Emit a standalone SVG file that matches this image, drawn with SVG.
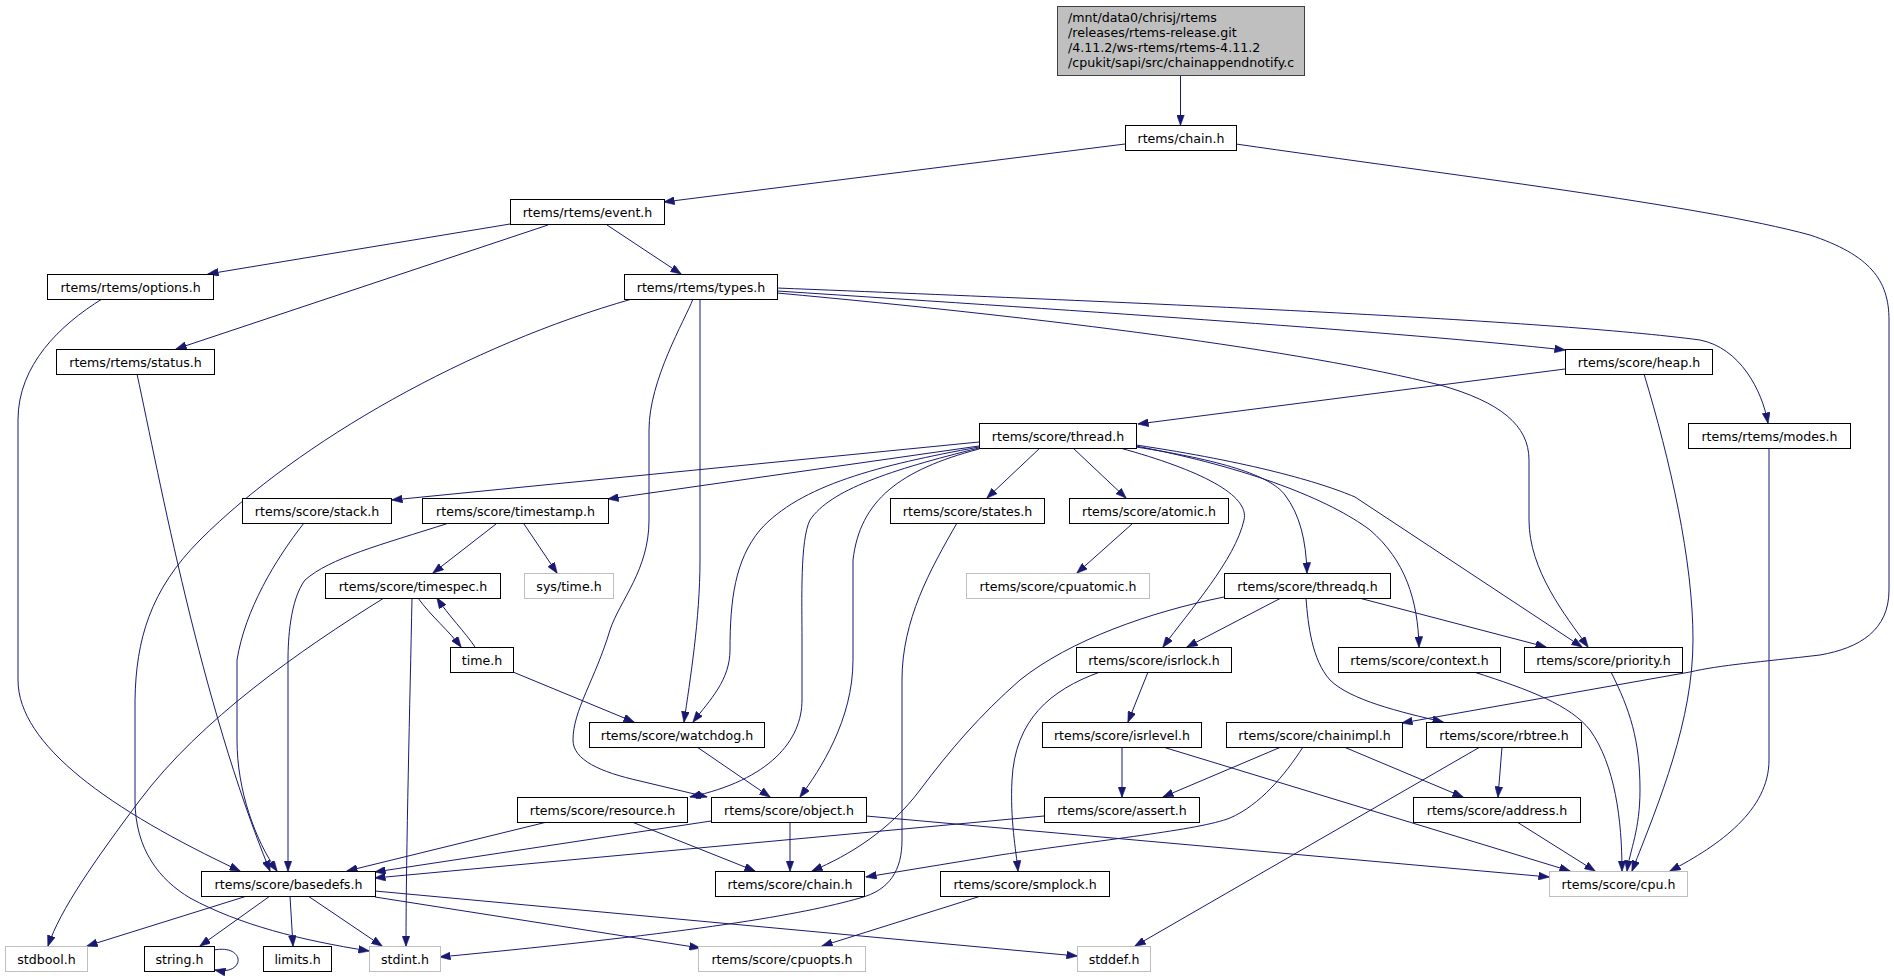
<svg xmlns="http://www.w3.org/2000/svg" width="1894" height="978" viewBox="0 0 1894 978">
<style>
text{font-family:"DejaVu Sans",Verdana,sans-serif;font-size:12.6px;fill:#000}
.n text{text-anchor:middle}
.n rect{fill:#fff;stroke:#000;stroke-width:1}
.m rect{fill:#fff;stroke:#bfbfbf;stroke-width:1}
.m text{text-anchor:middle}
#root rect{fill:#bfbfbf;stroke:#404040;stroke-width:1}
#edges path{fill:none;stroke:#191970;stroke-width:1;marker-end:url(#ah)}
</style>
<defs>
<marker id="ah" markerUnits="userSpaceOnUse" markerWidth="11" markerHeight="8" viewBox="0 0 11 8" refX="10.5" refY="4" orient="auto">
<path d="M0,0 L11,4 L0,8 z" fill="#191970" stroke="#191970" stroke-width="0.5"/>
</marker>
</defs>
<rect x="0" y="0" width="1894" height="978" fill="#fff"/>
<g id="edges">
<path d="M1180.5,75 L1180.5,125"/>
<path d="M1125,144 L664,202"/>
<path d="M1236,144 C1450,175 1700,205 1810,235 C1870,255 1889,280 1889,320 L1889,590 C1889,630 1860,648 1820,655 C1760,662 1720,665 1690,672 L1402,723"/>
<path d="M510,224 L208,274"/>
<path d="M548,225 L176,349"/>
<path d="M607,225 L681,274"/>
<path d="M102,299 C60,325 18,365 18,420 L18,680 C18,745 110,810 240,871"/>
<path d="M137,374 C160,480 200,700 270,871"/>
<path d="M632,299 C470,345 300,440 200,540 C150,590 136,640 135,700 L135,800 C135,850 160,880 190,898 C240,925 300,940 369,951"/>
<path d="M693,299 C685,320 649,380 649,430 L649,520 C649,570 620,600 610,630 C595,680 573,710 573,740 C573,760 600,772 640,781 L707,797"/>
<path d="M700,299 L700,560 C700,620 690,680 684,722"/>
<path d="M777,291 C1100,312 1400,332 1565,350"/>
<path d="M777,288 C1150,303 1550,320 1700,340 C1740,348 1762,390 1768,423"/>
<path d="M777,293 C1050,318 1300,350 1440,385 C1500,402 1529,425 1529,460 L1529,520 C1529,570 1565,615 1588,647"/>
<path d="M1565,369 L1138,424"/>
<path d="M1644,374 C1670,460 1693,560 1693,640 C1693,720 1660,800 1632,871"/>
<path d="M1769,449 L1769,760 C1769,810 1720,845 1670,871"/>
<path d="M979,442 L392,500"/>
<path d="M979,446 L608,499"/>
<path d="M979,447 C880,465 800,485 760,530 C735,560 730,600 730,650 C730,680 710,700 693,722"/>
<path d="M979,448 C890,470 830,490 810,520 C800,540 802,600 802,640 L802,700 C802,740 770,780 690,797"/>
<path d="M979,449 C900,470 860,500 853,560 L853,660 C853,720 820,770 800,797"/>
<path d="M1040,448 L987,498"/>
<path d="M1073,448 L1126,498"/>
<path d="M1120,448 C1200,470 1250,495 1244,520 C1235,560 1190,610 1163,647"/>
<path d="M1136,447 C1220,460 1270,475 1285,495 C1300,515 1306,540 1307,573"/>
<path d="M1136,446 C1250,468 1330,500 1370,530 C1405,560 1418,600 1419,647"/>
<path d="M1136,445 C1250,462 1320,482 1355,497 L1582,647"/>
<path d="M304,523 C275,560 245,610 237,660 L237,740 C237,790 255,840 277,871"/>
<path d="M449,523 C380,545 330,558 305,580 C290,600 288,640 288,660 L288,871"/>
<path d="M496,524 L433,573"/>
<path d="M524,524 L557,573"/>
<path d="M384,598 C300,650 200,720 140,800 C95,860 60,910 48,946"/>
<path d="M412,598 C410,700 406,850 406,946"/>
<path d="M418,598 C430,615 450,632 461,647"/>
<path d="M475,647 C465,632 448,615 437,598"/>
<path d="M513,672 L634,722"/>
<path d="M957,523 C930,570 902,620 902,680 L902,840 C902,870 890,890 860,898 C800,915 700,932 440,957"/>
<path d="M1132,524 L1077,573"/>
<path d="M1281,598 L1187,647"/>
<path d="M1359,598 L1546,647"/>
<path d="M1306,598 C1308,625 1312,660 1330,680 C1350,700 1400,712 1443,722"/>
<path d="M1224,597 C1150,612 1070,640 1020,680 C980,715 950,750 920,790 C890,830 850,855 812,871"/>
<path d="M1148,672 L1128,722"/>
<path d="M1100,672 C1050,690 1015,720 1012,780 C1010,820 1016,850 1018,871"/>
<path d="M1122,747 L1122,797"/>
<path d="M1163,747 L1570,871"/>
<path d="M1281,747 L1163,797"/>
<path d="M1344,747 L1463,797"/>
<path d="M1303,747 C1285,775 1260,805 1230,818 C1200,830 1100,840 1000,855 L866,877"/>
<path d="M1502,747 L1498,797"/>
<path d="M1480,747 L1135,946"/>
<path d="M1517,822 L1595,871"/>
<path d="M1474,672 C1530,690 1570,705 1590,730 C1615,765 1622,820 1622,871"/>
<path d="M1611,672 C1630,710 1640,740 1640,790 C1640,830 1630,850 1627,871"/>
<path d="M547,822 L347,871"/>
<path d="M632,822 L755,871"/>
<path d="M711,821 L375,872"/>
<path d="M790,822 L790,871"/>
<path d="M866,816 L1549,877"/>
<path d="M1044,816 L375,878"/>
<path d="M697,747 L770,797"/>
<path d="M247,896 L87,946"/>
<path d="M270,896 L200,946"/>
<path d="M290,896 L293,946"/>
<path d="M308,896 L382,946"/>
<path d="M375,897 L700,948"/>
<path d="M375,891 L1077,956"/>
<path d="M214,950 C246,944 246,976 215,970"/>
<path d="M981,896 L822,946"/>
</g>
<g id="root"><rect x="1057.5" y="6.5" width="247" height="69"/>
<text x="1068" y="21.5">/mnt/data0/chrisj/rtems</text>
<text x="1068" y="36.5">/releases/rtems-release.git</text>
<text x="1068" y="51.5">/4.11.2/ws-rtems/rtems-4.11.2</text>
<text x="1068" y="66.5">/cpukit/sapi/src/chainappendnotify.c</text></g>
<g id="chain" class="n"><rect x="1125.5" y="125.5" width="111" height="25"/><text x="1181" y="142.5">rtems/chain.h</text></g>
<g id="event" class="n"><rect x="510.5" y="199.5" width="154" height="25"/><text x="587.5" y="216.5">rtems/rtems/event.h</text></g>
<g id="options" class="n"><rect x="47.5" y="274.5" width="166" height="25"/><text x="130.5" y="291.5">rtems/rtems/options.h</text></g>
<g id="types" class="n"><rect x="624.5" y="274.5" width="153" height="25"/><text x="701" y="291.5">rtems/rtems/types.h</text></g>
<g id="status" class="n"><rect x="56.5" y="349.5" width="158" height="25"/><text x="135.5" y="366.5">rtems/rtems/status.h</text></g>
<g id="heap" class="n"><rect x="1565.5" y="349.5" width="147" height="25"/><text x="1639" y="366.5">rtems/score/heap.h</text></g>
<g id="modes" class="n"><rect x="1688.5" y="423.5" width="162" height="25"/><text x="1769.5" y="440.5">rtems/rtems/modes.h</text></g>
<g id="thread" class="n"><rect x="979.5" y="423.5" width="157" height="25"/><text x="1058" y="440.5">rtems/score/thread.h</text></g>
<g id="stack" class="n"><rect x="242.5" y="498.5" width="149" height="25"/><text x="317" y="515.5">rtems/score/stack.h</text></g>
<g id="timestamp" class="n"><rect x="422.5" y="498.5" width="186" height="25"/><text x="515.5" y="515.5">rtems/score/timestamp.h</text></g>
<g id="states" class="n"><rect x="890.5" y="498.5" width="154" height="25"/><text x="967.5" y="515.5">rtems/score/states.h</text></g>
<g id="atomic" class="n"><rect x="1069.5" y="498.5" width="159" height="25"/><text x="1149" y="515.5">rtems/score/atomic.h</text></g>
<g id="cpuatomic" class="m"><rect x="966.5" y="573.5" width="183" height="25"/><text x="1058" y="590.5">rtems/score/cpuatomic.h</text></g>
<g id="timespec" class="n"><rect x="325.5" y="573.5" width="175" height="25"/><text x="413" y="590.5">rtems/score/timespec.h</text></g>
<g id="systime" class="m"><rect x="524.5" y="573.5" width="89" height="25"/><text x="569" y="590.5">sys/time.h</text></g>
<g id="threadq" class="n"><rect x="1224.5" y="573.5" width="166" height="25"/><text x="1307.5" y="590.5">rtems/score/threadq.h</text></g>
<g id="time" class="n"><rect x="450.5" y="647.5" width="63" height="25"/><text x="482" y="664.5">time.h</text></g>
<g id="isrlock" class="n"><rect x="1076.5" y="647.5" width="155" height="25"/><text x="1154" y="664.5">rtems/score/isrlock.h</text></g>
<g id="context" class="n"><rect x="1338.5" y="647.5" width="162" height="25"/><text x="1419.5" y="664.5">rtems/score/context.h</text></g>
<g id="priority" class="n"><rect x="1524.5" y="647.5" width="158" height="25"/><text x="1603.5" y="664.5">rtems/score/priority.h</text></g>
<g id="watchdog" class="n"><rect x="589.5" y="722.5" width="175" height="25"/><text x="677" y="739.5">rtems/score/watchdog.h</text></g>
<g id="isrlevel" class="n"><rect x="1042.5" y="722.5" width="159" height="25"/><text x="1122" y="739.5">rtems/score/isrlevel.h</text></g>
<g id="chainimpl" class="n"><rect x="1226.5" y="722.5" width="176" height="25"/><text x="1314.5" y="739.5">rtems/score/chainimpl.h</text></g>
<g id="rbtree" class="n"><rect x="1426.5" y="722.5" width="155" height="25"/><text x="1504" y="739.5">rtems/score/rbtree.h</text></g>
<g id="resource" class="n"><rect x="517.5" y="797.5" width="170" height="25"/><text x="602.5" y="814.5">rtems/score/resource.h</text></g>
<g id="object" class="n"><rect x="711.5" y="797.5" width="155" height="25"/><text x="789" y="814.5">rtems/score/object.h</text></g>
<g id="assert" class="n"><rect x="1044.5" y="797.5" width="155" height="25"/><text x="1122" y="814.5">rtems/score/assert.h</text></g>
<g id="address" class="n"><rect x="1413.5" y="797.5" width="167" height="25"/><text x="1497" y="814.5">rtems/score/address.h</text></g>
<g id="basedefs" class="n"><rect x="201.5" y="871.5" width="174" height="25"/><text x="288.5" y="888.5">rtems/score/basedefs.h</text></g>
<g id="schain" class="n"><rect x="715.5" y="871.5" width="149" height="25"/><text x="790" y="888.5">rtems/score/chain.h</text></g>
<g id="smplock" class="n"><rect x="940.5" y="871.5" width="169" height="25"/><text x="1025" y="888.5">rtems/score/smplock.h</text></g>
<g id="cpu" class="m"><rect x="1549.5" y="871.5" width="138" height="25"/><text x="1618.5" y="888.5">rtems/score/cpu.h</text></g>
<g id="stdbool" class="m"><rect x="5.5" y="946.5" width="82" height="25"/><text x="46.5" y="963.5">stdbool.h</text></g>
<g id="string" class="n"><rect x="144.5" y="946.5" width="70" height="25"/><text x="179.5" y="963.5">string.h</text></g>
<g id="limits" class="n"><rect x="263.5" y="946.5" width="68" height="25"/><text x="297.5" y="963.5">limits.h</text></g>
<g id="stdint" class="m"><rect x="369.5" y="946.5" width="71" height="25"/><text x="405" y="963.5">stdint.h</text></g>
<g id="cpuopts" class="m"><rect x="698.5" y="946.5" width="167" height="25"/><text x="782" y="963.5">rtems/score/cpuopts.h</text></g>
<g id="stddef" class="m"><rect x="1077.5" y="946.5" width="73" height="25"/><text x="1114" y="963.5">stddef.h</text></g>
</svg>
